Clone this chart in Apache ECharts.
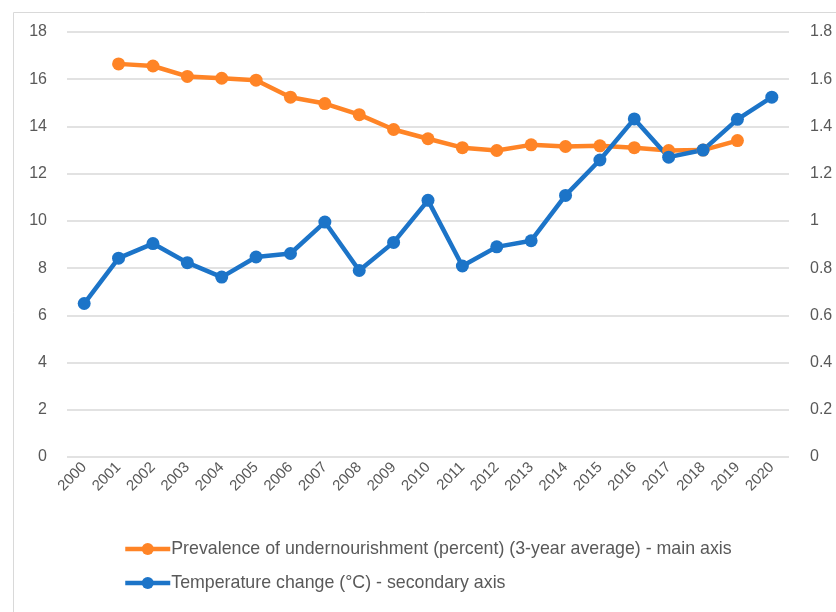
<!DOCTYPE html>
<html>
<head>
<meta charset="utf-8">
<script src="https://cdn.jsdelivr.net/npm/echarts@6/dist/echarts.min.js"></script>
<style>
  html, body { margin: 0; padding: 0; background: #fff; }
  #chart { width: 836px; height: 612px; }
</style>
</head>
<body>
<div id="chart"></div>
<script>
// ===== Data =====
const years = ['2000','2001','2002','2003','2004','2005','2006','2007','2008','2009','2010',
               '2011','2012','2013','2014','2015','2016','2017','2018','2019','2020'];
const undernourishment = [null, 16.65, 16.56, 16.12, 16.04, 15.96, 15.24, 14.97, 14.5, 13.87, 13.48,
                          13.1, 12.98, 13.22, 13.15, 13.18, 13.1, 12.98, 13.0, 13.4, null];
const tempChange = [0.65, 0.842, 0.904, 0.823, 0.762, 0.847, 0.862, 0.995, 0.79, 0.909, 1.087,
                    0.809, 0.89, 0.916, 1.108, 1.258, 1.432, 1.27, 1.3, 1.43, 1.524];
const mainName = 'Prevalence of undernourishment (percent) (3-year average) - main axis';
const secName = 'Temperature change (°C) - secondary axis';

const FONT = "'Liberation Sans', sans-serif";
const GREY = '#595959';
const ORANGE = '#ff8426';
const BLUE = '#1c74c8';

const chart = echarts.init(document.getElementById('chart'));
chart.setOption({
  animation: false,
  textStyle: { fontFamily: FONT },
  graphic: [{
    type: 'rect', silent: true,
    shape: { x: 13.5, y: 12.5, width: 840, height: 620 },
    style: { fill: 'none', stroke: '#d9d9d9', lineWidth: 1 }
  }],
  grid: { left: 67, right: 47, top: 32, bottom: 155 },
  legend: {
    orient: 'vertical', left: 118, top: 535, itemGap: 16,
    itemWidth: 45, itemHeight: 15,
    lineStyle: { width: 4.5 },
    textStyle: { fontFamily: FONT, fontSize: 17.8, color: GREY, padding: [0, 0, 0, -4] },
    data: [mainName, secName]
  },
  xAxis: {
    type: 'category', data: years, boundaryGap: true,
    axisLine: { show: false }, axisTick: { show: false },
    axisLabel: { rotate: 45, fontSize: 15, color: GREY, fontFamily: FONT, margin: 8, interval: 0 }
  },
  yAxis: [{
    type: 'value', min: 0, max: 18, interval: 2,
    axisLine: { show: false }, axisTick: { show: false },
    axisLabel: { fontSize: 16, color: GREY, fontFamily: FONT, margin: 20 },
    splitLine: { lineStyle: { color: '#d9d9d9', width: 1.5 } }
  }, {
    type: 'value', min: 0, max: 1.8, interval: 0.2,
    axisLine: { show: false }, axisTick: { show: false },
    axisLabel: { fontSize: 16, color: GREY, fontFamily: FONT, margin: 21,
      formatter: v => String(Math.round(v * 10) / 10) },
    splitLine: { show: false }
  }],
  series: [{
    name: mainName, type: 'line', yAxisIndex: 0, data: undernourishment,
    symbol: 'circle', symbolSize: 13,
    lineStyle: { color: ORANGE, width: 4.5 }, itemStyle: { color: ORANGE }
  }, {
    name: secName, type: 'line', yAxisIndex: 1, data: tempChange,
    symbol: 'circle', symbolSize: 13,
    lineStyle: { color: BLUE, width: 4.5 }, itemStyle: { color: BLUE }
  }]
});
</script>
</body>
</html>
